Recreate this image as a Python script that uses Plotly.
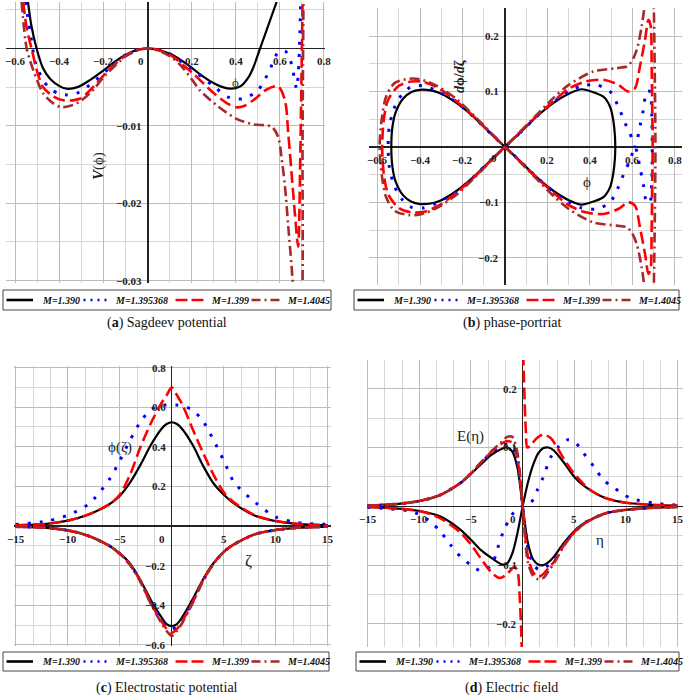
import plotly.graph_objects as go

# ---------------- data ----------------
# (a) Sagdeev potential V(phi)
phi_a_390 = [-0.545, -0.53, -0.506, -0.476, -0.445, -0.40, -0.37, -0.32, -0.264, -0.20, -0.15, -0.10, -0.05, 0.0,
             0.05, 0.10, 0.15, 0.20, 0.25, 0.30, 0.34, 0.38, 0.42, 0.46, 0.48, 0.51, 0.55, 0.585]
V_a_390 = [0.0060, 0.0030, 0.0, -0.0026, -0.0039, -0.0049, -0.0052, -0.0050, -0.0041, -0.0028, -0.0017, -0.0008, -0.0002, 0.0,
           -0.0002, -0.0007, -0.0015, -0.0025, -0.0036, -0.0045, -0.0050, -0.0052, -0.0049, -0.0036, -0.0024, 0.0, 0.0032, 0.0060]

phi_a_3954 = [-0.556, -0.536, -0.51, -0.476, -0.445, -0.40, -0.37, -0.324, -0.25, -0.17, -0.10, -0.05, 0.0, 0.05, 0.10, 0.20,
              0.30, 0.365, 0.433, 0.50, 0.55, 0.592, 0.623, 0.645, 0.66, 0.676, 0.684, 0.69, 0.695]
V_a_3954 = [0.0060, 0.0023, -0.0020, -0.0041, -0.0052, -0.0059, -0.0060, -0.0058, -0.0044, -0.0024, -0.0008, -0.0002, 0.0,
            -0.0002, -0.0007, -0.0027, -0.0049, -0.0063, -0.0065, -0.0054, -0.0030, -0.0005, -0.0003, -0.0013, -0.0030,
            -0.0052, -0.0030, 0.0010, 0.0065]

phi_a_399 = [-0.567, -0.55, -0.529, -0.50, -0.476, -0.43, -0.385, -0.31, -0.233, -0.173, -0.10, -0.05, 0.0, 0.05, 0.10, 0.20,
             0.30, 0.36, 0.403, 0.44, 0.479, 0.54, 0.592, 0.623, 0.638, 0.653, 0.668, 0.683, 0.692, 0.698, 0.703]
V_a_399 = [0.0060, 0.0025, 0.0, -0.0033, -0.0050, -0.0062, -0.0067, -0.0065, -0.0045, -0.0026, -0.0009, -0.0002, 0.0,
           -0.0002, -0.0008, -0.0031, -0.0058, -0.0071, -0.0076, -0.0074, -0.0067, -0.0053, -0.0049, -0.0067, -0.0110,
           -0.0161, -0.0213, -0.0256, -0.0150, -0.0040, 0.0060]

phi_a_4045 = [-0.574, -0.551, -0.521, -0.476, -0.43, -0.392, -0.324, -0.264, -0.188, -0.10, -0.05, 0.0, 0.05, 0.10, 0.15,
              0.20, 0.236, 0.32, 0.403, 0.479, 0.562, 0.592, 0.607, 0.623, 0.638, 0.653, 0.668, 0.685, 0.700, 0.703, 0.707]
V_a_4045 = [0.0060, 0.0, -0.0028, -0.0058, -0.0071, -0.0076, -0.0071, -0.0058, -0.0033, -0.0010, -0.0003, 0.0, -0.0003,
            -0.0010, -0.0022, -0.0040, -0.0054, -0.0075, -0.0091, -0.0098, -0.0101, -0.0114, -0.0140, -0.0178, -0.0230,
            -0.0281, -0.0340, -0.0380, -0.0340, -0.0120, 0.0060]

# (b) phase portrait: upper branch dphi/dzeta (lower branch is its mirror image)
phi_b_390 = [-0.535, -0.53, -0.515, -0.48, -0.44, -0.40, -0.35, -0.30, -0.227, -0.15, -0.07, 0.0, 0.07, 0.15, 0.227,
             0.30, 0.361, 0.42, 0.465, 0.495, 0.51, 0.517, 0.519]
d_b_390 = [0.0, 0.035, 0.062, 0.087, 0.099, 0.103, 0.102, 0.096, 0.079, 0.055, 0.025, 0.0, 0.025, 0.055, 0.079,
           0.096, 0.104, 0.098, 0.090, 0.072, 0.047, 0.022, 0.0]

phi_b_3954 = [-0.55, -0.545, -0.53, -0.518, -0.486, -0.439, -0.384, -0.321, -0.227, -0.15, -0.07, 0.0, 0.07, 0.15, 0.227,
              0.30, 0.36, 0.43, 0.494, 0.533, 0.565, 0.588, 0.612, 0.635, 0.651, 0.667, 0.682, 0.69, 0.693]
d_b_3954 = [0.0, 0.035, 0.060, 0.073, 0.094, 0.109, 0.110, 0.101, 0.080, 0.055, 0.025, 0.0, 0.025, 0.055, 0.080,
            0.100, 0.110, 0.112, 0.100, 0.073, 0.043, 0.025, 0.0, 0.037, 0.067, 0.100, 0.100, 0.067, 0.0]

phi_b_399 = [-0.578, -0.57, -0.55, -0.50, -0.44, -0.38, -0.30, -0.227, -0.15, -0.07, 0.0, 0.07, 0.15, 0.227, 0.30,
             0.38, 0.463, 0.533, 0.58, 0.612, 0.635, 0.659, 0.675, 0.685, 0.69, 0.693, 0.695]
d_b_399 = [0.0, 0.050, 0.085, 0.110, 0.118, 0.117, 0.103, 0.082, 0.056, 0.026, 0.0, 0.026, 0.056, 0.082, 0.105,
           0.118, 0.121, 0.112, 0.100, 0.106, 0.145, 0.193, 0.229, 0.220, 0.150, 0.060, 0.0]

phi_b_4045 = [-0.59, -0.58, -0.56, -0.52, -0.45, -0.40, -0.32, -0.227, -0.15, -0.07, 0.0, 0.07, 0.15, 0.227, 0.30,
              0.416, 0.525, 0.573, 0.596, 0.62, 0.643, 0.659, 0.67, 0.695, 0.70, 0.705, 0.708]
d_b_4045 = [0.0, 0.050, 0.090, 0.115, 0.123, 0.122, 0.110, 0.086, 0.058, 0.027, 0.0, 0.027, 0.058, 0.088, 0.112,
            0.136, 0.142, 0.145, 0.154, 0.175, 0.217, 0.262, 0.320, 0.320, 0.260, 0.130, 0.0]

# (c) electrostatic potential phi(zeta)
zeta_c = [-15, -12, -10, -8, -6, -5, -4, -3, -2, -1, -0.5, 0, 0.5, 1, 2, 3, 4, 5, 6, 8, 10, 12, 15]
phi_c_390_pos = [0.004, 0.011, 0.027, 0.058, 0.110, 0.152, 0.220, 0.310, 0.410, 0.490, 0.515, 0.524, 0.515, 0.490,
                 0.410, 0.305, 0.216, 0.158, 0.113, 0.052, 0.025, 0.011, 0.004]
phi_c_390_neg = [-0.003, -0.009, -0.022, -0.050, -0.100, -0.138, -0.190, -0.275, -0.375, -0.460, -0.495, -0.505, -0.495,
                 -0.460, -0.370, -0.270, -0.188, -0.130, -0.092, -0.042, -0.020, -0.009, -0.003]
phi_c_3954_pos = [0.008, 0.025, 0.055, 0.110, 0.235, 0.330, 0.434, 0.527, 0.588, 0.608, 0.611, 0.612, 0.611, 0.607,
                  0.585, 0.530, 0.435, 0.330, 0.220, 0.120, 0.045, 0.018, 0.008]
phi_c_3954_neg = [-0.003, -0.009, -0.022, -0.050, -0.100, -0.140, -0.195, -0.280, -0.385, -0.470, -0.508, -0.520, -0.508,
                  -0.470, -0.380, -0.275, -0.190, -0.130, -0.092, -0.042, -0.020, -0.009, -0.003]
phi_c_399_pos = [0.004, 0.011, 0.027, 0.058, 0.110, 0.158, 0.260, 0.400, 0.520, 0.620, 0.660, 0.700, 0.660, 0.615,
                 0.490, 0.370, 0.260, 0.170, 0.118, 0.054, 0.025, 0.011, 0.004]
phi_c_399_neg = [-0.003, -0.009, -0.022, -0.050, -0.100, -0.140, -0.195, -0.280, -0.390, -0.480, -0.520, -0.540, -0.520,
                 -0.480, -0.385, -0.275, -0.190, -0.130, -0.092, -0.042, -0.020, -0.009, -0.003]
phi_c_4045_neg = [-0.003, -0.009, -0.022, -0.050, -0.100, -0.141, -0.197, -0.283, -0.395, -0.490, -0.530, -0.555, -0.530,
                  -0.490, -0.390, -0.278, -0.192, -0.131, -0.093, -0.042, -0.020, -0.009, -0.003]

# (d) electric field E(eta)
eta_d = [-15, -12, -10, -8, -6, -5, -4, -3, -2, -1.5, -1, -0.5, 0, 0.5, 1, 1.5, 2, 2.5, 3, 4, 5, 6, 8, 10, 12, 15]
E_d_390_a = [0.001, 0.004, 0.009, 0.019, 0.040, 0.055, 0.072, 0.088, 0.098, 0.100, 0.093, 0.065, 0.0, -0.062, -0.090,
             -0.099, -0.100, -0.095, -0.086, -0.062, -0.042, -0.028, -0.012, -0.006, -0.003, -0.001]
E_d_390_b = [-0.001, -0.004, -0.008, -0.017, -0.040, -0.057, -0.075, -0.088, -0.099, -0.097, -0.080, -0.045, 0.0, 0.040,
             0.070, 0.090, 0.099, 0.100, 0.095, 0.074, 0.050, 0.034, 0.014, 0.006, 0.003, 0.001]
E_d_3954_a = [0.001, 0.004, 0.009, 0.019, 0.040, 0.056, 0.074, 0.091, 0.103, 0.106, 0.100, 0.072, 0.0, -0.070, -0.098,
              -0.107, -0.106, -0.100, -0.090, -0.064, -0.043, -0.028, -0.012, -0.006, -0.003, -0.001]
eta_d_3954_b = [-15, -13, -11, -10, -9, -8, -7, -6, -5, -4, -3, -2.4, -1.8, -1.1, -0.5, 0, 0.8, 1.4, 2.0, 2.7, 3.5, 4.3,
                5.0, 5.9, 6.9, 7.8, 8.8, 10.4, 12.9, 15]
E_d_3954_b = [-0.002, -0.004, -0.008, -0.014, -0.025, -0.042, -0.065, -0.086, -0.100, -0.110, -0.100, -0.070, -0.040,
              -0.016, -0.004, 0.0, 0.006, 0.027, 0.050, 0.083, 0.102, 0.113, 0.110, 0.090, 0.067, 0.045, 0.032, 0.014,
              0.005, 0.002]
E_d_399_a = [0.001, 0.004, 0.009, 0.019, 0.040, 0.056, 0.075, 0.093, 0.107, 0.111, 0.108, 0.080, 0.0, -0.085, -0.112,
             -0.120, -0.115, -0.105, -0.095, -0.066, -0.044, -0.029, -0.012, -0.006, -0.003, -0.001]
eta_d_399_b = [-15, -12, -10, -8, -6, -5, -4, -3, -2.2, -1.5, -0.8, -0.5, -0.3, -0.15, -0.05, None, 0.05, 0.15, 0.3,
               0.45, 0.8, 1.3, 2.0, 2.7, 3.3, 4, 5, 6.5, 8, 10, 12, 15]
E_d_399_b = [-0.001, -0.004, -0.008, -0.020, -0.045, -0.065, -0.090, -0.113, -0.122, -0.115, -0.103, -0.110, -0.150,
             -0.210, -0.260, None, 0.260, 0.200, 0.130, 0.100, 0.104, 0.115, 0.122, 0.116, 0.101, 0.080, 0.055, 0.028,
             0.014, 0.006, 0.003, 0.001]
E_d_4045_a = [0.001, 0.004, 0.009, 0.019, 0.040, 0.056, 0.075, 0.094, 0.110, 0.118, 0.118, 0.090, 0.0, -0.095, -0.118,
              -0.124, -0.122, -0.110, -0.098, -0.067, -0.045, -0.029, -0.012, -0.006, -0.003, -0.001]

# tick labels
ticks_a_x = [-0.6, -0.4, -0.2, 0.2, 0.4, 0.6, 0.8]
ticks_a_y = [-0.01, -0.02, -0.03]
ticks_b_x = [-0.6, -0.4, -0.2, 0.2, 0.4, 0.6, 0.8]
ticks_b_y = [0.2, 0.1, -0.1, -0.2]
ticks_c_x = [-15, -10, -5, 5, 10, 15]
ticks_c_y = [0.8, 0.6, 0.4, 0.2, -0.2, -0.4, -0.6]
ticks_d_x = [-15, -10, -5, 5, 10, 15]
ticks_d_y = [0.2, 0.1, -0.1, -0.2]

series_keys = ["390", "3954", "399", "4045"]
series_names = {"390": "M=1.390", "3954": "M=1.395368", "399": "M=1.399", "4045": "M=1.4045"}

# ---------------- styling ----------------
FONT = "Liberation Serif"
styles = {
    "390": dict(color="#000000", width=2.2, dash="solid"),
    "3954": dict(color="#0000ff", width=3, dash="3px,9px"),
    "399": dict(color="#ff0000", width=2.6, dash="12px,5px"),
    "4045": dict(color="#a52a2a", width=2.6, dash="10px,4px,2px,4px"),
}
legend_dash = {"390": "solid", "3954": "2px,5px", "399": "12px,4px", "4045": "9px,4px,2px,4px"}

fig = go.Figure()


def add(x, y, key, xa, ya):
    fig.add_trace(go.Scatter(
        x=x, y=y, mode="lines", line=dict(shape="spline", smoothing=0.8, **styles[key]),
        name=series_names[key], xaxis=xa, yaxis=ya, showlegend=False, hoverinfo="skip"))


def loop_path(phi, d):
    i0 = phi.index(0.0)
    rp, rd = phi[i0:], d[i0:]
    lp, ld = phi[:i0 + 1], d[:i0 + 1]
    xs = rp + rp[-2::-1] + lp[-2::-1] + lp[1:]
    ys = rd + [-v for v in rd[-2::-1]] + ld[-2::-1] + [-v for v in ld[1:]]
    return xs, ys


# (a)
add(phi_a_390, V_a_390, "390", "x", "y")
add(phi_a_3954, V_a_3954, "3954", "x", "y")
add(phi_a_399, V_a_399, "399", "x", "y")
add(phi_a_4045, V_a_4045, "4045", "x", "y")
# (b)
for key, ph, dd in [("390", phi_b_390, d_b_390), ("3954", phi_b_3954, d_b_3954),
                    ("399", phi_b_399, d_b_399), ("4045", phi_b_4045, d_b_4045)]:
    xs, ys = loop_path(ph, dd)
    add(xs, ys, key, "x2", "y2")
# (c)
add(zeta_c, phi_c_390_pos, "390", "x3", "y3")
add(zeta_c, phi_c_390_neg, "390", "x3", "y3")
add(zeta_c, phi_c_3954_pos, "3954", "x3", "y3")
add(zeta_c, phi_c_3954_neg, "3954", "x3", "y3")
add(zeta_c, phi_c_399_pos, "399", "x3", "y3")
add(zeta_c, phi_c_399_neg, "399", "x3", "y3")
add(zeta_c, phi_c_4045_neg, "4045", "x3", "y3")
# (d)
add(eta_d, E_d_390_a, "390", "x4", "y4")
add(eta_d, E_d_390_b, "390", "x4", "y4")
add(eta_d, E_d_3954_a, "3954", "x4", "y4")
add(eta_d_3954_b, E_d_3954_b, "3954", "x4", "y4")
add(eta_d, E_d_399_a, "399", "x4", "y4")
add(eta_d_399_b, E_d_399_b, "399", "x4", "y4")
add(eta_d, E_d_4045_a, "4045", "x4", "y4")

W, H = 685, 698


def px_x(p):
    return p / W


def px_y(p):
    return 1 - p / H


def dom_x(p0, p1):
    return [p0 / W, p1 / W]


def dom_y(top, bottom):
    return [1 - bottom / H, 1 - top / H]


MAJ = "#bcbcbc"
MIN = "#d6d6d6"


def axis(domain, rng, dtick, minor, anchor):
    return dict(domain=domain, range=rng, anchor=anchor, showticklabels=False, ticks="",
                tick0=0, dtick=dtick, showgrid=True, gridcolor=MAJ, gridwidth=1,
                minor=dict(tick0=0, dtick=minor, showgrid=True, gridcolor=MIN, gridwidth=1),
                zeroline=True, zerolinecolor="#222222", zerolinewidth=1.2, showline=False)


fig.update_layout(
    width=W, height=H, margin=dict(l=0, r=0, t=0, b=0), showlegend=False,
    paper_bgcolor="white", plot_bgcolor="white",
    font=dict(family=FONT, color="#111111"),
    xaxis=axis(dom_x(6, 325), [-0.645, 0.805], 0.2, 0.1, "y"),
    yaxis=axis(dom_y(2, 283), [-0.0303, 0.006], 0.01, 0.005, "x"),
    xaxis2=axis(dom_x(369, 682), [-0.64, 0.833], 0.2, 0.1, "y2"),
    yaxis2=axis(dom_y(8, 285), [-0.249, 0.2505], 0.1, 0.05, "x2"),
    xaxis3=axis(dom_x(13.6, 331), [-15.2, 15.3], 5, 5 / 3, "y3"),
    yaxis3=axis(dom_y(366, 646), [-0.606, 0.808], 0.2, 0.1, "x3"),
    xaxis4=axis(dom_x(366.5, 683), [-15.1, 15.5], 5, 5 / 3, "y4"),
    yaxis4=axis(dom_y(360, 647), [-0.2393, 0.2488], 0.1, 0.05, "x4"),
)

annots = []
shapes = []
TF = dict(family=FONT, size=11, color="#222222")


def fmt(v):
    return ("%g" % v).replace("-", "\u2212")


def tick_labels(xr, yr, xt, yt, xshift0, yshift0):
    for v in xt:
        annots.append(dict(x=v, y=0, xref=xr, yref=yr, text="<b>%s</b>" % fmt(v), showarrow=False,
                           xanchor="center", yanchor="middle", yshift=-13, font=TF))
    for v in yt:
        annots.append(dict(x=0, y=v, xref=xr, yref=yr, text="<b>%s</b>" % fmt(v), showarrow=False,
                           xanchor="right", yanchor="middle", xshift=-4, font=TF))
    annots.append(dict(x=0, y=0, xref=xr, yref=yr, text="<b>0</b>", showarrow=False,
                       xanchor="right", yanchor="middle", xshift=xshift0, yshift=yshift0, font=TF))


tick_labels("x", "y", ticks_a_x, ticks_a_y, -2, -13)
tick_labels("x2", "y2", ticks_b_x, ticks_b_y, -6, -11)
tick_labels("x3", "y3", ticks_c_x, ticks_c_y, -5, -13)
tick_labels("x4", "y4", ticks_d_x, ticks_d_y, -5, -13)

LF = dict(family=FONT, size=15, color="#222222")
annots += [
    dict(x=-0.227, y=-0.0152, xref="x", yref="y", text="<b><i>V</i></b>(\u03d5)", textangle=-90,
         showarrow=False, font=LF),
    dict(x=0.40, y=-0.0044, xref="x", yref="y", text="\u03d5", showarrow=False,
         font=dict(family=FONT, size=13, color="#333333")),
    dict(x=-0.212, y=0.128, xref="x2", yref="y2", text="<b><i>d</i>\u03d5/<i>d</i>\u03b6</b>", textangle=-90,
         showarrow=False, font=dict(family=FONT, size=14, color="#222222")),
    dict(x=0.386, y=-0.063, xref="x2", yref="y2", text="\u03d5", showarrow=False, font=LF),
    dict(x=-4.97, y=0.394, xref="x3", yref="y3", text="\u03d5(\u03b6)", showarrow=False, font=LF),
    dict(x=7.34, y=-0.172, xref="x3", yref="y3", text="\u03b6", showarrow=False,
         font=dict(family=FONT, size=17, color="#222222")),
    dict(x=-5.09, y=0.118, xref="x4", yref="y4", text="E(\u03b7)", showarrow=False, font=LF),
    dict(x=7.49, y=-0.057, xref="x4", yref="y4", text="\u03b7", showarrow=False, font=LF),
]

# legend boxes (one under each panel): left, top, right, bottom in pixels
legend_boxes = [(3, 290, 331, 310), (354, 290, 679, 310), (3, 652, 329, 671), (356, 652, 679, 671)]
# item offsets from box left: line start, line end, text start
legend_offsets = {"390": (3.5, 30, 37), "3954": (80.5, 104.5, 110), "399": (172.5, 201.5, 206),
                  "4045": (248.5, 279.5, 282)}
LGF = dict(family=FONT, size=10, color="#111111")
for (l, t, r, b) in legend_boxes:
    shapes.append(dict(type="rect", xref="paper", yref="paper", x0=px_x(l), x1=px_x(r), y0=px_y(b), y1=px_y(t),
                       line=dict(color="#444444", width=1), fillcolor="white", layer="above"))
    yc = (t + b) / 2
    for key in series_keys:
        s0, s1, tx = legend_offsets[key]
        st = styles[key]
        shapes.append(dict(type="line", xref="paper", yref="paper", x0=px_x(l + s0), x1=px_x(l + s1),
                           y0=px_y(yc), y1=px_y(yc),
                           line=dict(color=st["color"], width=2.6, dash=legend_dash[key]), layer="above"))
        annots.append(dict(x=px_x(l + tx), y=px_y(yc), xref="paper", yref="paper",
                           text="<b><i>%s</i></b>" % series_names[key], showarrow=False,
                           xanchor="left", yanchor="middle", font=LGF))

CF = dict(family=FONT, size=14, color="#111111")
captions = [("(<b>a</b>) Sagdeev potential", 167, 323), ("(<b>b</b>) phase-portriat", 512, 323),
            ("(<b>c</b>) Electrostatic potential", 167, 688), ("(<b>d</b>) Electric field", 512, 688)]
for txt, px, py in captions:
    annots.append(dict(x=px_x(px), y=px_y(py), xref="paper", yref="paper", text=txt, showarrow=False,
                       xanchor="center", yanchor="middle", font=CF))

fig.update_layout(annotations=annots, shapes=shapes)
fig.write_html("out.html", config={"displayModeBar": False, "staticPlot": True},
               post_script="document.body.style.margin='0px';document.body.style.overflow='hidden';")
